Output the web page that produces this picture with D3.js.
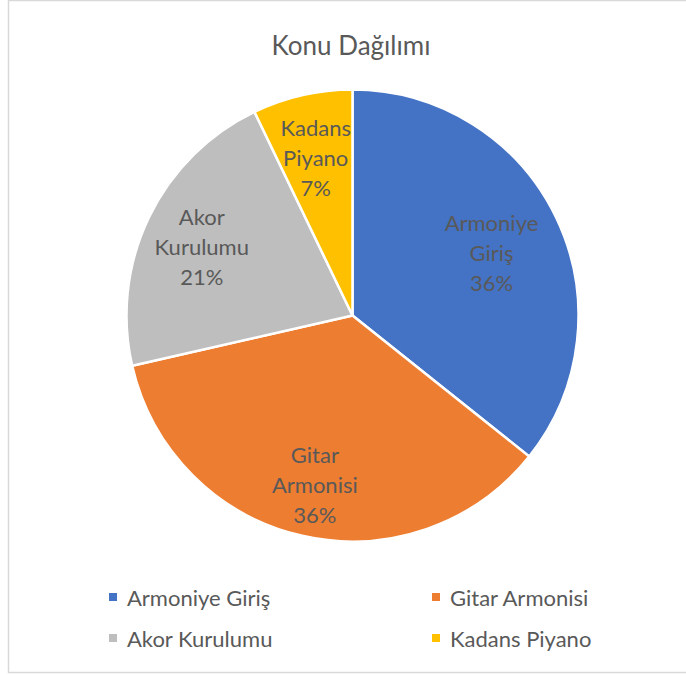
<!DOCTYPE html>
<html>
<head>
<meta charset="utf-8">
<script src="https://cdn.jsdelivr.net/npm/d3@7"></script>
<style>
  html, body { margin: 0; padding: 0; background: #fff; }
  svg { display: block; }
  text { font-family: Lato, "Noto Sans", sans-serif; }
</style>
</head>
<body>
<svg id="chart" width="686" height="675"></svg>
<script>
// Topic distribution (number of lessons per topic)
const title = "Konu Dağılımı";
const categories = ["Armoniye Giriş", "Gitar Armonisi", "Akor Kurulumu", "Kadans Piyano"];
const values = [5, 5, 3, 1];
const labelLines = [["Armoniye", "Giriş"], ["Gitar", "Armonisi"], ["Akor", "Kurulumu"], ["Kadans", "Piyano"]];
const colors = ["#4472C4", "#ED7D31", "#BEBEBE", "#FFC000"];

const svg = d3.select("#chart");
const textColor = "#595959";

// chart frame
svg.append("rect")
  .attr("x", 8.5).attr("y", 0.5)
  .attr("width", 700).attr("height", 672)
  .attr("fill", "#fff")
  .attr("stroke", "#D9D9D9").attr("stroke-width", 1.5);

svg.append("text")
  .attr("x", 351).attr("y", 55)
  .attr("text-anchor", "middle")
  .attr("font-size", 26)
  .attr("fill", textColor)
  .text(title);

const cx = 352.5, cy = 315.5, r = 226;
const total = d3.sum(values);
const pie = d3.pie().sort(null).value(d => d)(values);
const arc = d3.arc().innerRadius(0).outerRadius(r);
const color = d3.scaleOrdinal().domain(categories).range(colors);

const g = svg.append("g").attr("transform", `translate(${cx},${cy})`);

g.selectAll("path.slice")
  .data(pie)
  .join("path")
  .attr("class", "slice")
  .attr("d", arc)
  .attr("fill", (d, i) => color(categories[i]))
  .attr("stroke", "#fff")
  .attr("stroke-width", 2.5)
  .attr("stroke-linejoin", "round");

// data labels: start well out along the slice bisector and move inward
// until every line of the label sits inside the pie with a small margin
const lineH = 30, halfLine = 12, fitR = r - 10;
g.selectAll("text.lbl")
  .data(pie)
  .join("text")
  .attr("class", "lbl")
  .attr("text-anchor", "middle")
  .attr("font-size", 22)
  .attr("fill", textColor)
  .each(function (d, i) {
    const lines = labelLines[i].concat([Math.round(values[i] / total * 100) + "%"]);
    const t = d3.select(this);
    const spans = lines.map(s => t.append("tspan").text(s));
    const widths = spans.map(s => s.node().getComputedTextLength());
    const mid = (d.startAngle + d.endAngle) / 2;
    const offs = lines.map((s, k) => (k - (lines.length - 1) / 2) * lineH);
    const fits = rho => {
      const x = rho * Math.sin(mid), y = -rho * Math.cos(mid);
      return offs.every((o, k) => {
        const xs = [x - widths[k] / 2, x + widths[k] / 2];
        const ys = [y + o - halfLine, y + o + halfLine];
        return xs.every(px => ys.every(py => Math.hypot(px, py) <= fitR));
      });
    };
    let rho = r * 0.78;
    while (rho > 0 && !fits(rho)) rho -= 1;
    const x = rho * Math.sin(mid), y = -rho * Math.cos(mid);
    spans.forEach((s, k) => s.attr("x", x).attr("y", y + offs[k] + 12));
  });

// legend, two columns
const legend = svg.append("g");
const colX = [109, 432], rowY = [598, 639];
categories.forEach((c, i) => {
  const x = colX[i % 2], y = rowY[Math.floor(i / 2)];
  const item = legend.append("g").attr("transform", `translate(${x},${y})`);
  item.append("rect")
    .attr("x", 0).attr("y", -5)
    .attr("width", 8).attr("height", 8)
    .attr("fill", color(c));
  item.append("text")
    .attr("x", 18).attr("y", 8)
    .attr("font-size", 22)
    .attr("fill", textColor)
    .text(c);
});
</script>
</body>
</html>
